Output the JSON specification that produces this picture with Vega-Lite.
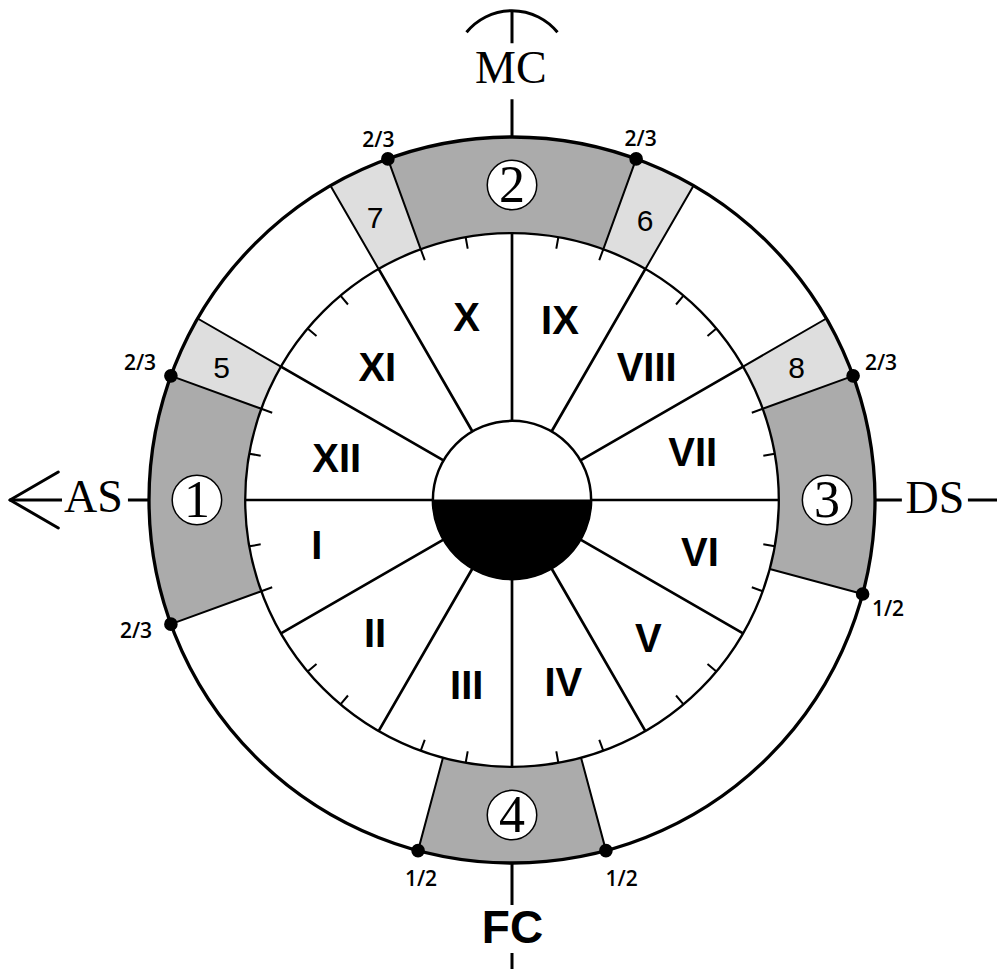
{
  "$schema": "https://vega.github.io/schema/vega-lite/v6.json",
  "width": 997,
  "height": 969,
  "autosize": "none",
  "padding": 0,
  "background": "white",
  "config": {"view": {"stroke": null}},
  "datasets": {
    "band": [
      {"a1": 160, "a2": 200, "r1": 73.5, "r2": 100, "tone": "gray"},
      {"a1": 70, "a2": 110, "r1": 73.5, "r2": 100, "tone": "gray"},
      {"a1": -15, "a2": 20, "r1": 73.5, "r2": 100, "tone": "gray"},
      {"a1": 255, "a2": 285, "r1": 73.5, "r2": 100, "tone": "gray"},
      {"a1": 150, "a2": 160, "r1": 73.5, "r2": 100, "tone": "light"},
      {"a1": 110, "a2": 120, "r1": 73.5, "r2": 100, "tone": "light"},
      {"a1": 60, "a2": 70, "r1": 73.5, "r2": 100, "tone": "light"},
      {"a1": 20, "a2": 30, "r1": 73.5, "r2": 100, "tone": "light"}
    ],
    "rings": [
      {"a1": 0, "a2": 360, "r": 100, "ring": "outer"},
      {"a1": 0, "a2": 360, "r": 73.5, "ring": "inner"}
    ],
    "hub": [{"a1": 0, "a2": 360, "r": 21.8}],
    "hubdark": [{"a1": 180, "a2": 360, "r": 21.8}],
    "spokes": [
      {"a": 0, "r1": 21.8, "r2": 73.5}, {"a": 30, "r1": 21.8, "r2": 73.5}, {"a": 60, "r1": 21.8, "r2": 73.5},
      {"a": 90, "r1": 21.8, "r2": 73.5}, {"a": 120, "r1": 21.8, "r2": 73.5}, {"a": 150, "r1": 21.8, "r2": 73.5},
      {"a": 180, "r1": 21.8, "r2": 73.5}, {"a": 210, "r1": 21.8, "r2": 73.5}, {"a": 240, "r1": 21.8, "r2": 73.5},
      {"a": 270, "r1": 21.8, "r2": 73.5}, {"a": 300, "r1": 21.8, "r2": 73.5}, {"a": 330, "r1": 21.8, "r2": 73.5}
    ],
    "bandlines": [
      {"a": 160, "r1": 73.5, "r2": 100}, {"a": 150, "r1": 73.5, "r2": 100}, {"a": 120, "r1": 73.5, "r2": 100},
      {"a": 110, "r1": 73.5, "r2": 100}, {"a": 70, "r1": 73.5, "r2": 100}, {"a": 60, "r1": 73.5, "r2": 100},
      {"a": 30, "r1": 73.5, "r2": 100}, {"a": 20, "r1": 73.5, "r2": 100}, {"a": 345, "r1": 73.5, "r2": 100},
      {"a": 285, "r1": 73.5, "r2": 100}, {"a": 255, "r1": 73.5, "r2": 100}, {"a": 200, "r1": 73.5, "r2": 100}
    ],
    "ticks": [
      {"a": 10}, {"a": 20}, {"a": 40}, {"a": 50}, {"a": 70}, {"a": 80},
      {"a": 100}, {"a": 110}, {"a": 130}, {"a": 140}, {"a": 160}, {"a": 170},
      {"a": 190}, {"a": 200}, {"a": 220}, {"a": 230}, {"a": 250}, {"a": 260},
      {"a": 280}, {"a": 290}, {"a": 310}, {"a": 320}, {"a": 340}, {"a": 350}
    ],
    "ext": [
      {"a": 180, "r1": 100, "r2": 105.8},
      {"a": 180, "r1": 123.97, "r2": 138.29},
      {"a": 0, "r1": 100, "r2": 107.4},
      {"a": 0, "r1": 125.6, "r2": 140},
      {"a": 90, "r1": 100, "r2": 110.4},
      {"a": 90, "r1": 125.8, "r2": 134.5},
      {"a": 270, "r1": 100, "r2": 111.6},
      {"a": 270, "r1": 124.8, "r2": 140}
    ],
    "mcarc": [{"a1": 39.2, "a2": 140.8, "r": 16.17}],
    "arms": [
      {"x": -138.29, "y": 0, "x2": -124.99, "y2": 7.7},
      {"x": -138.29, "y": 0, "x2": -124.99, "y2": -7.7}
    ],
    "discs": [
      {"x": -86.8, "y": 0}, {"x": 0, "y": 86.8}, {"x": 86.8, "y": 0}, {"x": 0, "y": -86.8}
    ],
    "dots": [
      {"x": -93.97, "y": 34.2}, {"x": -34.2, "y": 93.97}, {"x": 34.2, "y": 93.97}, {"x": 93.97, "y": 34.2},
      {"x": -93.97, "y": -34.2}, {"x": 96.59, "y": -25.88}, {"x": -25.88, "y": -96.59}, {"x": 25.88, "y": -96.59}
    ],
    "roman": [
      {"x": -48.29, "y": 7.63, "t": "XII"},
      {"x": -37.11, "y": 32.87, "t": "XI"},
      {"x": -12.48, "y": 46.64, "t": "X"},
      {"x": 13.22, "y": 45.73, "t": "IX"},
      {"x": 37.11, "y": 32.87, "t": "VIII"},
      {"x": 49.78, "y": 9.45, "t": "VII"},
      {"x": 51.79, "y": -18.1, "t": "VI"},
      {"x": 37.55, "y": -41.96, "t": "V"},
      {"x": 14.13, "y": -53.91, "t": "IV"},
      {"x": -12.48, "y": -54.82, "t": "III"},
      {"x": -37.74, "y": -40.58, "t": "II"},
      {"x": -53.8, "y": -16.25, "t": "I"}
    ],
    "lightnum": [
      {"x": -79.97, "y": 33.55, "t": "5"},
      {"x": -37.74, "y": 74.88, "t": "7"},
      {"x": 36.64, "y": 73.97, "t": "6"},
      {"x": 78.43, "y": 33.55, "t": "8"}
    ],
    "discnum": [
      {"x": -86.8, "y": -4.68, "t": "1"},
      {"x": 0, "y": 82.12, "t": "2"},
      {"x": 86.8, "y": -4.68, "t": "3"},
      {"x": 0, "y": -91.48, "t": "4"}
    ],
    "frac": [
      {"x": -102.48, "y": 35.95, "t": "2/3"},
      {"x": -36.83, "y": 97.11, "t": "2/3"},
      {"x": 35.45, "y": 97.44, "t": "2/3"},
      {"x": 101.65, "y": 35.9, "t": "2/3"},
      {"x": -103.58, "y": -38.02, "t": "2/3"},
      {"x": 103.58, "y": -31.82, "t": "1/2"},
      {"x": -25.07, "y": -106.34, "t": "1/2"},
      {"x": 30.22, "y": -106.34, "t": "1/2"}
    ],
    "angles": [
      {"x": -0.33, "y": 114.88, "t": "MC"},
      {"x": -115.34, "y": -3.22, "t": "AS"},
      {"x": 116.53, "y": -3.66, "t": "DS"}
    ],
    "fc": [{"x": 0.14, "y": -122.04, "t": "FC"}]
  },
  "layer": [
    {
      "data": {"name": "band"},
      "mark": {"type": "arc", "strokeWidth": 0},
      "encoding": {
        "x": {"datum": 0, "type": "quantitative", "scale": {"domain": [-141.05, 133.61], "nice": false}, "axis": null},
        "y": {"datum": 0, "type": "quantitative", "scale": {"domain": [-129.2, 137.74], "nice": false}, "axis": null},
        "theta": {"field": "a1", "type": "quantitative", "stack": null, "scale": {"type": "linear", "domain": [90, -270], "range": [0, 6.2832], "nice": false, "zero": false}},
        "theta2": {"field": "a2"},
        "radius": {"field": "r2", "type": "quantitative", "scale": {"type": "linear", "domain": [0, 100], "range": [0, 363], "nice": false, "zero": true}},
        "radius2": {"field": "r1"},
        "fill": {"field": "tone", "type": "nominal", "scale": {"domain": ["gray", "light"], "range": ["#ababab", "#dedede"]}, "legend": null}
      }
    },
    {
      "data": {"name": "bandlines"},
      "mark": {"type": "arc", "filled": false, "stroke": "black", "strokeWidth": 2},
      "encoding": {
        "x": {"datum": 0, "type": "quantitative", "scale": {"domain": [-141.05, 133.61], "nice": false}, "axis": null},
        "y": {"datum": 0, "type": "quantitative", "scale": {"domain": [-129.2, 137.74], "nice": false}, "axis": null},
        "theta": {"field": "a", "type": "quantitative", "stack": null, "scale": {"type": "linear", "domain": [90, -270], "range": [0, 6.2832], "nice": false, "zero": false}},
        "theta2": {"field": "a"},
        "radius": {"field": "r2", "type": "quantitative", "scale": {"type": "linear", "domain": [0, 100], "range": [0, 363], "nice": false, "zero": true}},
        "radius2": {"field": "r1"}
      }
    },
    {
      "data": {"name": "spokes"},
      "mark": {"type": "arc", "filled": false, "stroke": "black", "strokeWidth": 2.7},
      "encoding": {
        "x": {"datum": 0, "type": "quantitative", "scale": {"domain": [-141.05, 133.61], "nice": false}, "axis": null},
        "y": {"datum": 0, "type": "quantitative", "scale": {"domain": [-129.2, 137.74], "nice": false}, "axis": null},
        "theta": {"field": "a", "type": "quantitative", "stack": null, "scale": {"type": "linear", "domain": [90, -270], "range": [0, 6.2832], "nice": false, "zero": false}},
        "theta2": {"field": "a"},
        "radius": {"field": "r2", "type": "quantitative", "scale": {"type": "linear", "domain": [0, 100], "range": [0, 363], "nice": false, "zero": true}},
        "radius2": {"field": "r1"}
      }
    },
    {
      "data": {"name": "ticks"},
      "mark": {"type": "arc", "filled": false, "stroke": "black", "strokeWidth": 2},
      "encoding": {
        "x": {"datum": 0, "type": "quantitative", "scale": {"domain": [-141.05, 133.61], "nice": false}, "axis": null},
        "y": {"datum": 0, "type": "quantitative", "scale": {"domain": [-129.2, 137.74], "nice": false}, "axis": null},
        "theta": {"field": "a", "type": "quantitative", "stack": null, "scale": {"type": "linear", "domain": [90, -270], "range": [0, 6.2832], "nice": false, "zero": false}},
        "theta2": {"field": "a"},
        "radius": {"datum": 73.5, "type": "quantitative", "scale": {"type": "linear", "domain": [0, 100], "range": [0, 363], "nice": false, "zero": true}},
        "radius2": {"datum": 70.3}
      }
    },
    {
      "data": {"name": "ext"},
      "mark": {"type": "arc", "filled": false, "stroke": "black", "strokeWidth": 3},
      "encoding": {
        "x": {"datum": 0, "type": "quantitative", "scale": {"domain": [-141.05, 133.61], "nice": false}, "axis": null},
        "y": {"datum": 0, "type": "quantitative", "scale": {"domain": [-129.2, 137.74], "nice": false}, "axis": null},
        "theta": {"field": "a", "type": "quantitative", "stack": null, "scale": {"type": "linear", "domain": [90, -270], "range": [0, 6.2832], "nice": false, "zero": false}},
        "theta2": {"field": "a"},
        "radius": {"field": "r2", "type": "quantitative", "scale": {"type": "linear", "domain": [0, 100], "range": [0, 363], "nice": false, "zero": true}},
        "radius2": {"field": "r1"}
      }
    },
    {
      "data": {"name": "rings"},
      "mark": {"type": "arc", "filled": false, "stroke": "black"},
      "encoding": {
        "x": {"datum": 0, "type": "quantitative", "scale": {"domain": [-141.05, 133.61], "nice": false}, "axis": null},
        "y": {"datum": 0, "type": "quantitative", "scale": {"domain": [-129.2, 137.74], "nice": false}, "axis": null},
        "theta": {"field": "a1", "type": "quantitative", "stack": null, "scale": {"type": "linear", "domain": [90, -270], "range": [0, 6.2832], "nice": false, "zero": false}},
        "theta2": {"field": "a2"},
        "radius": {"field": "r", "type": "quantitative", "scale": {"type": "linear", "domain": [0, 100], "range": [0, 363], "nice": false, "zero": true}},
        "strokeWidth": {"field": "ring", "type": "nominal", "scale": {"domain": ["outer", "inner"], "range": [3.3, 2.3]}, "legend": null}
      }
    },
    {
      "data": {"name": "hub"},
      "mark": {"type": "arc", "fill": "white", "stroke": "black", "strokeWidth": 2.5},
      "encoding": {
        "x": {"datum": 0, "type": "quantitative", "scale": {"domain": [-141.05, 133.61], "nice": false}, "axis": null},
        "y": {"datum": 0, "type": "quantitative", "scale": {"domain": [-129.2, 137.74], "nice": false}, "axis": null},
        "theta": {"field": "a1", "type": "quantitative", "stack": null, "scale": {"type": "linear", "domain": [90, -270], "range": [0, 6.2832], "nice": false, "zero": false}},
        "theta2": {"field": "a2"},
        "radius": {"field": "r", "type": "quantitative", "scale": {"type": "linear", "domain": [0, 100], "range": [0, 363], "nice": false, "zero": true}}
      }
    },
    {
      "data": {"name": "hubdark"},
      "mark": {"type": "arc", "fill": "black", "stroke": "black", "strokeWidth": 1},
      "encoding": {
        "x": {"datum": 0, "type": "quantitative", "scale": {"domain": [-141.05, 133.61], "nice": false}, "axis": null},
        "y": {"datum": 0, "type": "quantitative", "scale": {"domain": [-129.2, 137.74], "nice": false}, "axis": null},
        "theta": {"field": "a1", "type": "quantitative", "stack": null, "scale": {"type": "linear", "domain": [90, -270], "range": [0, 6.2832], "nice": false, "zero": false}},
        "theta2": {"field": "a2"},
        "radius": {"field": "r", "type": "quantitative", "scale": {"type": "linear", "domain": [0, 100], "range": [0, 363], "nice": false, "zero": true}}
      }
    },
    {
      "data": {"name": "mcarc"},
      "mark": {"type": "arc", "filled": false, "stroke": "black", "strokeWidth": 3},
      "encoding": {
        "x": {"datum": 0, "type": "quantitative", "scale": {"domain": [-141.05, 133.61], "nice": false}, "axis": null},
        "y": {"datum": 118.62, "type": "quantitative", "scale": {"domain": [-129.2, 137.74], "nice": false}, "axis": null},
        "theta": {"field": "a1", "type": "quantitative", "stack": null, "scale": {"type": "linear", "domain": [90, -270], "range": [0, 6.2832], "nice": false, "zero": false}},
        "theta2": {"field": "a2"},
        "radius": {"field": "r", "type": "quantitative", "scale": {"type": "linear", "domain": [0, 100], "range": [0, 363], "nice": false, "zero": true}},
        "radius2": {"field": "r"}
      }
    },
    {
      "data": {"name": "arms"},
      "mark": {"type": "rule", "color": "black", "strokeWidth": 3, "strokeCap": "round"},
      "encoding": {
        "x": {"field": "x", "type": "quantitative", "scale": {"domain": [-141.05, 133.61], "nice": false}, "axis": null},
        "y": {"field": "y", "type": "quantitative", "scale": {"domain": [-129.2, 137.74], "nice": false}, "axis": null},
        "x2": {"field": "x2"},
        "y2": {"field": "y2"}
      }
    },
    {
      "data": {"name": "discs"},
      "mark": {"type": "point", "shape": "circle", "filled": true, "fill": "white", "stroke": "black", "strokeWidth": 1.5, "size": 2450, "opacity": 1},
      "encoding": {
        "x": {"field": "x", "type": "quantitative", "scale": {"domain": [-141.05, 133.61], "nice": false}, "axis": null},
        "y": {"field": "y", "type": "quantitative", "scale": {"domain": [-129.2, 137.74], "nice": false}, "axis": null}
      }
    },
    {
      "data": {"name": "dots"},
      "mark": {"type": "circle", "color": "black", "size": 185, "opacity": 1},
      "encoding": {
        "x": {"field": "x", "type": "quantitative", "scale": {"domain": [-141.05, 133.61], "nice": false}, "axis": null},
        "y": {"field": "y", "type": "quantitative", "scale": {"domain": [-129.2, 137.74], "nice": false}, "axis": null}
      }
    },
    {
      "data": {"name": "roman"},
      "mark": {"type": "text", "font": "Liberation Sans", "fontWeight": "bold", "fontSize": 40, "align": "center", "baseline": "alphabetic", "color": "black"},
      "encoding": {
        "x": {"field": "x", "type": "quantitative", "scale": {"domain": [-141.05, 133.61], "nice": false}, "axis": null},
        "y": {"field": "y", "type": "quantitative", "scale": {"domain": [-129.2, 137.74], "nice": false}, "axis": null},
        "text": {"field": "t"}
      }
    },
    {
      "data": {"name": "lightnum"},
      "mark": {"type": "text", "font": "Liberation Sans", "fontSize": 30, "align": "center", "baseline": "alphabetic", "color": "black"},
      "encoding": {
        "x": {"field": "x", "type": "quantitative", "scale": {"domain": [-141.05, 133.61], "nice": false}, "axis": null},
        "y": {"field": "y", "type": "quantitative", "scale": {"domain": [-129.2, 137.74], "nice": false}, "axis": null},
        "text": {"field": "t"}
      }
    },
    {
      "data": {"name": "discnum"},
      "mark": {"type": "text", "font": "Liberation Serif", "fontSize": 52, "align": "center", "baseline": "alphabetic", "color": "black"},
      "encoding": {
        "x": {"field": "x", "type": "quantitative", "scale": {"domain": [-141.05, 133.61], "nice": false}, "axis": null},
        "y": {"field": "y", "type": "quantitative", "scale": {"domain": [-129.2, 137.74], "nice": false}, "axis": null},
        "text": {"field": "t"}
      }
    },
    {
      "data": {"name": "frac"},
      "mark": {"type": "text", "font": "Open Sans", "fontWeight": 600, "fontSize": 21, "align": "center", "baseline": "alphabetic", "color": "black"},
      "encoding": {
        "x": {"field": "x", "type": "quantitative", "scale": {"domain": [-141.05, 133.61], "nice": false}, "axis": null},
        "y": {"field": "y", "type": "quantitative", "scale": {"domain": [-129.2, 137.74], "nice": false}, "axis": null},
        "text": {"field": "t"}
      }
    },
    {
      "data": {"name": "angles"},
      "mark": {"type": "text", "font": "Liberation Serif", "fontSize": 46, "align": "center", "baseline": "alphabetic", "color": "black"},
      "encoding": {
        "x": {"field": "x", "type": "quantitative", "scale": {"domain": [-141.05, 133.61], "nice": false}, "axis": null},
        "y": {"field": "y", "type": "quantitative", "scale": {"domain": [-129.2, 137.74], "nice": false}, "axis": null},
        "text": {"field": "t"}
      }
    },
    {
      "data": {"name": "fc"},
      "mark": {"type": "text", "font": "Liberation Sans", "fontWeight": "bold", "fontSize": 46, "align": "center", "baseline": "alphabetic", "color": "black"},
      "encoding": {
        "x": {"field": "x", "type": "quantitative", "scale": {"domain": [-141.05, 133.61], "nice": false}, "axis": null},
        "y": {"field": "y", "type": "quantitative", "scale": {"domain": [-129.2, 137.74], "nice": false}, "axis": null},
        "text": {"field": "t"}
      }
    }
  ]
}
